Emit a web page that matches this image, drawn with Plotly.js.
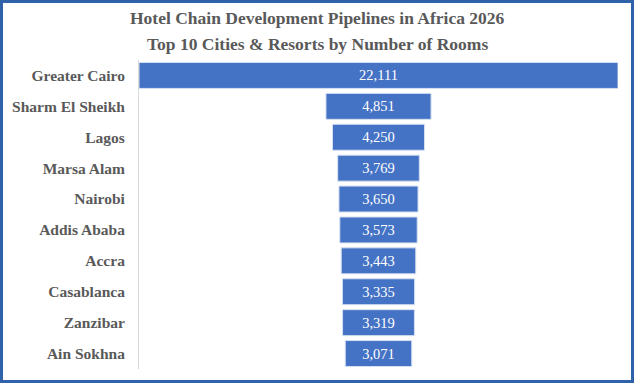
<!DOCTYPE html>
<html><head><meta charset="utf-8">
<script src="https://cdn.plot.ly/plotly-3.0.1.min.js"></script>
<style>
html,body{margin:0;padding:0;background:#fff;}
#wrap{position:relative;width:634px;height:383px;}
#chart{width:634px;height:383px;}
#frame{position:absolute;left:0;top:0;width:634px;height:383px;box-sizing:border-box;border:3px solid #2F62A8;pointer-events:none;}
</style>
</head><body>
<div id="wrap"><div id="chart"></div><div id="frame"></div></div>
<script>
const cities = ["Greater Cairo","Sharm El Sheikh","Lagos","Marsa Alam","Nairobi","Addis Ababa","Accra","Casablanca","Zanzibar","Ain Sokhna"];
const rooms = [22111,4851,4250,3769,3650,3573,3443,3335,3319,3071];
const titleLines = ["Hotel Chain Development Pipelines in Africa 2026","Top 10 Cities & Resorts by Number of Rooms"];

const serif = 'Liberation Serif';
const maxV = Math.max(...rooms);
const trace = {
  type:'funnel',
  y:cities, x:rooms,
  orientation:'h',
  marker:{color:'#4472C4', line:{color:'#D6E0F0', width:1}},
  connector:{visible:false},
  textinfo:'value',
  texttemplate:'%{x:,}',
  textposition:'inside',
  insidetextanchor:'middle',
  textfont:{family:serif, size:14.5, color:'#FFFFFF'},
  hoverinfo:'skip'
};
const titleY = [1.136, 1.052];
const layout = {
  width:634, height:383,
  margin:{l:139, r:16, t:60, b:14},
  paper_bgcolor:'#fff', plot_bgcolor:'#fff',
  font:{family:serif, color:'#595959'},
  showlegend:false,
  funnelgap:0.16,
  annotations:titleLines.map((t,i)=>({text:'<b>'+t+'</b>', xref:'paper', yref:'paper', x:0.372, xanchor:'center',
     y:titleY[i], yanchor:'middle', showarrow:false, font:{family:serif, size:17.5, color:'#595959'}})),
  xaxis:{visible:false, range:[-maxV/2, maxV/2], fixedrange:true},
  yaxis:{showline:true, linecolor:'#D9D9D9', linewidth:1, ticks:'', ticklabelstandoff:10,
         tickmode:'array', tickvals:cities, ticktext:cities.map(c=>'<b>'+c+'</b>'),
         tickfont:{family:serif, size:15.5, color:'#595959'},
         showgrid:false, zeroline:false}
};
Plotly.newPlot('chart',[trace],layout,{displayModeBar:false, staticPlot:true});
</script>
</body></html>
